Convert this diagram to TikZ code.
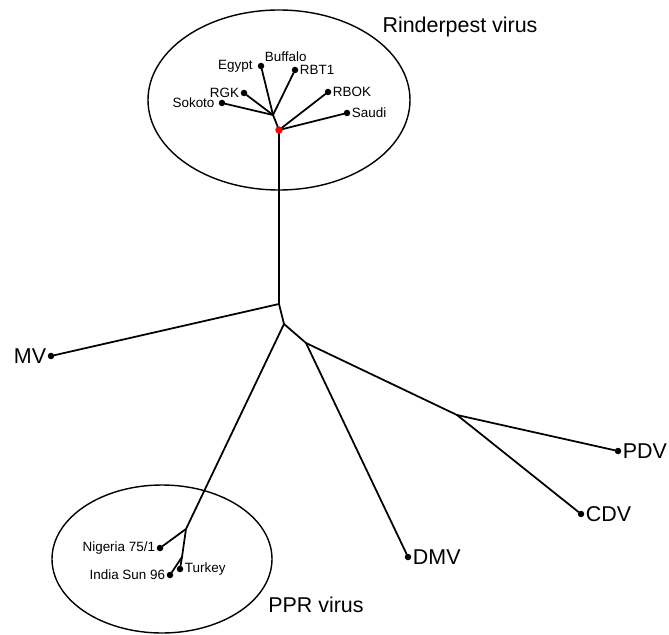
\documentclass[tikz,border=0pt]{standalone}
\usepackage{fontspec}
\setmainfont{Liberation Sans}
\usetikzlibrary{shapes}

\begin{document}
\begin{tikzpicture}[leaf/.style={shape=circle,fill=black,inner sep=0pt,minimum size=0.26cm},every label/.style={font=\fontsize{15.3}{18}\selectfont,inner sep=1.5pt},big/.style={font=\fontsize{24.4}{29}\selectfont,inner sep=1.5pt}]
\useasboundingbox (0,0) rectangle (26.76,25.36);
\draw [draw=black,line width=1.6pt] (11.16,21.36) ellipse (5.24cm and 3.6cm);
\draw [draw=black,line width=1.6pt] (6.48,3.0) ellipse (4.4cm and 2.96cm);
\node[big] (21) at (18.4,24.28) {Rinderpest virus};
\node[big] (22) at (12.64,1.16) {PPR virus};

\node[leaf,label={[label distance=4pt]left:Egypt},label=above right:Buffalo] (0) at (10.44,22.72) {};
\node[leaf,label=right:RBT1] (1) at (11.8,22.56) {};
\node[leaf,label=left:RGK] (2) at (9.76,21.64) {};
\node[leaf,label={[label distance=3pt]left:Sokoto}] (3) at (8.88,21.24) {};
\node[leaf,label=right:RBOK] (4) at (13.12,21.68) {};
\node[leaf,label=right:Saudi] (5) at (13.88,20.84) {};
\node[shape=circle,fill=red,inner sep=0pt,minimum size=0.3cm] (6) at (11.16,20.16) {};
\coordinate (7) at (10.92,20.76);
\coordinate (8) at (11.16,13.2);
\node[leaf,label={[big]left:MV}] (9) at (2.04,11.12) {};
\coordinate (10) at (11.36,12.4);
\coordinate (11) at (12.24,11.64);
\node[leaf,label={[big]right:DMV}] (12) at (16.32,3.08) {};
\coordinate (13) at (18.28,8.76);
\node[leaf,label={[big]right:PDV}] (14) at (24.72,7.32) {};
\node[leaf,label={[big]right:CDV}] (15) at (23.24,4.8) {};
\coordinate (16) at (7.44,4.2);
\node[leaf,label=left:Nigeria 75/1] (17) at (6.4,3.44) {};
\coordinate (18) at (7.28,3.08);
\node[leaf,label=right:Turkey] (19) at (7.2,2.6) {};
\node[leaf,label=left:India Sun 96] (20) at (6.8,2.36) {};

\path [-,draw=black,line width=2pt,line cap=round] (7) edge (0);
\path [-,draw=black,line width=2pt,line cap=round] (7) edge (1);
\path [-,draw=black,line width=2pt,line cap=round] (7) edge (2);
\path [-,draw=black,line width=2pt,line cap=round] (7) edge (3);
\path [-,draw=black,line width=2pt,line cap=round] (6) edge (4);
\path [-,draw=black,line width=2pt,line cap=round] (6) edge (5);
\path [-,draw=black,line width=2pt,line cap=round] (7) edge (6);
\path [-,draw=black,line width=2pt,line cap=round] (6) edge (8);
\path [-,draw=black,line width=2pt,line cap=round] (8) edge (9);
\path [-,draw=black,line width=2pt,line cap=round] (8) edge (10);
\path [-,draw=black,line width=2pt,line cap=round] (10) edge (11);
\path [-,draw=black,line width=2pt,line cap=round] (10) edge (16);
\path [-,draw=black,line width=2pt,line cap=round] (11) edge (12);
\path [-,draw=black,line width=2pt,line cap=round] (11) edge (13);
\path [-,draw=black,line width=2pt,line cap=round] (13) edge (14);
\path [-,draw=black,line width=2pt,line cap=round] (13) edge (15);
\path [-,draw=black,line width=2pt,line cap=round] (16) edge (17);
\path [-,draw=black,line width=2pt,line cap=round] (16) edge (18);
\path [-,draw=black,line width=2pt,line cap=round] (18) edge (19);
\path [-,draw=black,line width=2pt,line cap=round] (18) edge (20);
\end{tikzpicture}
\end{document}
